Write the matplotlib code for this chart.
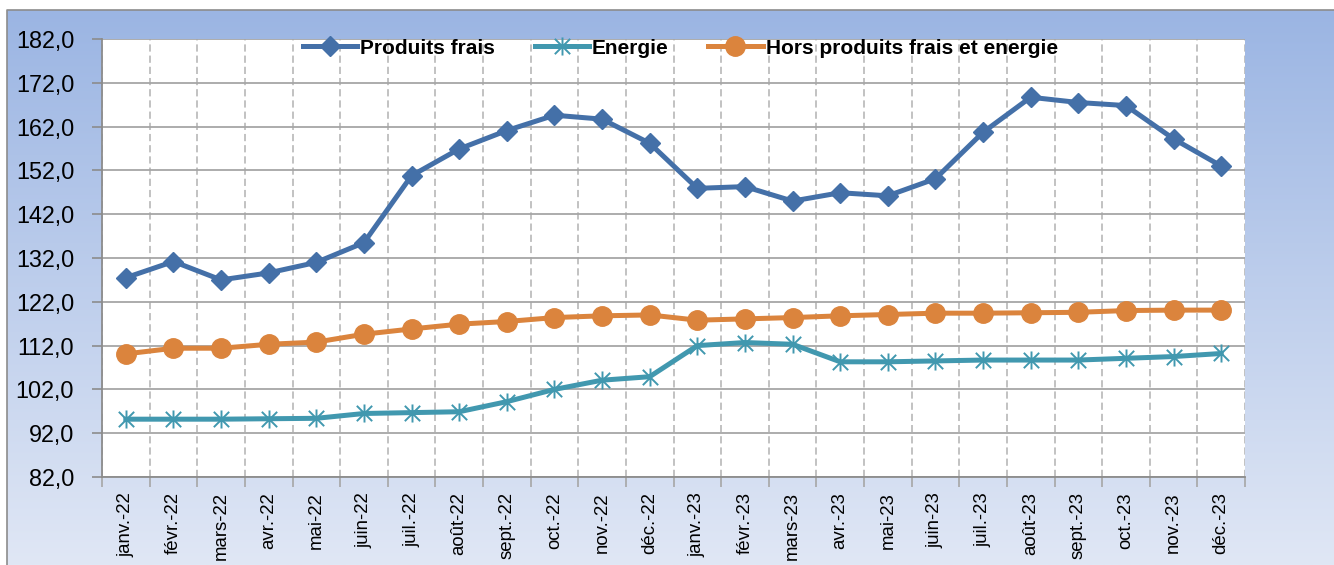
import numpy as np
import matplotlib
matplotlib.use("Agg")
import matplotlib.pyplot as plt
from matplotlib.path import Path
from matplotlib.ticker import FixedLocator, FuncFormatter, NullFormatter

# ---------------- data ----------------
months = ["janv.-22", "févr.-22", "mars-22", "avr.-22", "mai-22", "juin-22",
          "juil.-22", "août-22", "sept.-22", "oct.-22", "nov.-22", "déc.-22",
          "janv.-23", "févr.-23", "mars-23", "avr.-23", "mai-23", "juin-23",
          "juil.-23", "août-23", "sept.-23", "oct.-23", "nov.-23", "déc.-23"]
produits_frais = [127.5, 131.2, 127.0, 128.6, 131.0, 135.5, 150.8, 156.9,
                  161.1, 164.6, 163.7, 158.2, 147.9, 148.3, 145.0, 146.9,
                  146.2, 150.1, 160.7, 168.7, 167.5, 166.8, 159.2, 153.0]
energie = [95.2, 95.2, 95.2, 95.3, 95.4, 96.5, 96.7, 96.9, 99.2, 102.0,
           104.1, 104.9, 112.0, 112.7, 112.3, 108.3, 108.3, 108.5, 108.7,
           108.7, 108.7, 109.1, 109.5, 110.2]
hors_pf_energie = [110.1, 111.4, 111.4, 112.3, 112.8, 114.6, 115.8, 116.9,
                   117.5, 118.4, 118.8, 119.0, 117.8, 118.1, 118.4, 118.8,
                   119.1, 119.4, 119.4, 119.5, 119.6, 120.0, 120.1, 120.1]
series_labels = ["Produits frais", "Energie", "Hors produits frais et energie"]
y_ticks = [82, 92, 102, 112, 122, 132, 142, 152, 162, 172, 182]

plt.rcParams['font.family'] = ['Liberation Sans', 'DejaVu Sans']

W, H = 1334, 565
fig = plt.figure(figsize=(W / 100, H / 100), dpi=100)
fig.patch.set_facecolor("white")

# ---------------- background panel (gradient) ----------------
bg = fig.add_axes([0, 0, 1, 1], zorder=-10)
bg.set_xlim(0, W)
bg.set_ylim(H, 0)
bg.axis("off")
top = np.array([155, 181, 227]) / 255
bot = np.array([224, 231, 245]) / 255
t = np.linspace(0, 1, 256)[:, None]
grad = top[None, None, :] * (1 - t[:, :, None]) + bot[None, None, :] * t[:, :, None]
grad = np.repeat(grad, 2, axis=1)
bg.imshow(grad, extent=(7, W, H, 10), aspect="auto", interpolation="bilinear")
bg.plot([7, 7, W], [H, 10, 10], color="#8c8c8c", lw=1.2)

# ---------------- main axes ----------------
l, r, b, tp = 102 / W, 1245 / W, 1 - 477 / H, 1 - 39 / H
ax = fig.add_axes([l, b, r - l, tp - b])
ax.set_facecolor("white")

x = np.arange(len(months))

c_pf = "#4470A8"
c_en = "#4198AF"
c_hp = "#DB843D"

ast = Path([(0, -1), (0, 1), (-0.85, -0.85), (0.85, 0.85), (-0.85, 0.85), (0.85, -0.85)],
           [Path.MOVETO, Path.LINETO, Path.MOVETO, Path.LINETO, Path.MOVETO, Path.LINETO])

ax.plot(x, produits_frais, color=c_pf, lw=3.6, marker="D", markersize=10.5,
        markerfacecolor=c_pf, markeredgecolor=c_pf, solid_joinstyle="round",
        label=series_labels[0], zorder=5)
ax.plot(x, energie, color=c_en, lw=3.6, marker=ast, markersize=13,
        markerfacecolor="none", markeredgecolor=c_en, markeredgewidth=1.4,
        solid_joinstyle="round", label=series_labels[1], zorder=4)
ax.plot(x, hors_pf_energie, color=c_hp, lw=3.6, marker="o", markersize=14,
        markerfacecolor=c_hp, markeredgecolor=c_hp, solid_joinstyle="round",
        label=series_labels[2], zorder=5)

ax.set_xlim(-0.5, len(months) - 0.5)
ax.set_ylim(82, 182)

# y axis
ax.yaxis.set_major_locator(FixedLocator(y_ticks))
ax.yaxis.set_major_formatter(FuncFormatter(lambda v, p: f"{v:.1f}".replace(".", ",")))
ax.tick_params(axis="y", which="major", length=7, width=1.2, color="#8c8c8c",
               pad=13, labelsize=16.8, labelcolor="black")
ax.grid(axis="y", which="major", color="#a6a6a6", lw=1.3, ls="-", zorder=0)

# x axis
ax.xaxis.set_major_locator(FixedLocator(x))
ax.set_xticklabels(months, rotation=90)
ax.tick_params(axis="x", which="major", length=0, pad=11, labelsize=13.4,
               labelcolor="black")
ax.xaxis.set_minor_locator(FixedLocator(np.arange(-0.5, len(months), 1.0)))
ax.xaxis.set_minor_formatter(NullFormatter())
ax.tick_params(axis="x", which="minor", length=7, width=1.2, color="#a6a6a6")
ax.grid(axis="x", which="minor", color="#bdbdbd", lw=1.3, ls=(0, (4, 2.2)), zorder=0)
ax.set_axisbelow(True)

for s in ("top", "right"):
    ax.spines[s].set_visible(False)
for s in ("left", "bottom"):
    ax.spines[s].set_color("#8c8c8c")
    ax.spines[s].set_linewidth(1.3)

leg = ax.legend(loc="center", bbox_to_anchor=(0.506, 0.979), ncol=3, frameon=False,
                prop={"weight": "bold", "size": 15}, handlelength=2.6,
                handletextpad=0.15, columnspacing=1.9, borderaxespad=0)

fig.savefig("out.png", dpi=100, facecolor=fig.get_facecolor())
